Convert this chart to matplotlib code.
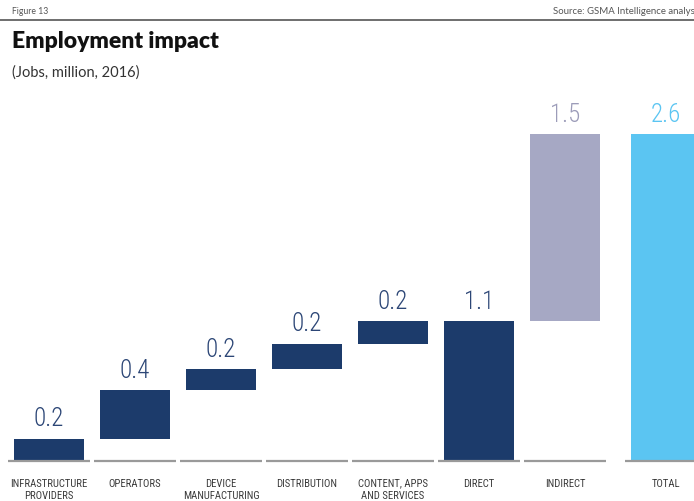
import matplotlib
matplotlib.use("Agg")
import matplotlib.pyplot as plt
from matplotlib import font_manager as fm
from matplotlib.lines import Line2D

# Employment impact waterfall, jobs in millions (2016)
categories = ["INFRASTRUCTURE\nPROVIDERS", "OPERATORS", "DEVICE\nMANUFACTURING",
              "DISTRIBUTION", "CONTENT, APPS\nAND SERVICES", "DIRECT", "INDIRECT", "TOTAL"]
direct_parts = [0.18, 0.39, 0.165, 0.205, 0.18]
indirect_jobs = 1.50

NAVY = "#1c3b6b"
LAVENDER = "#a6a8c4"
SKY = "#5bc5f2"
RULE = "#9a9a9a"


def pick_font(names):
    for name in names:
        try:
            fm.findfont(name, fallback_to_default=False)
            return name
        except ValueError:
            continue
    return "DejaVu Sans"


narrow = pick_font(["Roboto Condensed", "Liberation Sans Narrow", "Roboto", "DejaVu Sans"])
cats_font = pick_font(["Roboto Condensed", "Liberation Sans Narrow", "Liberation Sans"])
body = pick_font(["Lato", "Open Sans", "DejaVu Sans"])

direct_total = sum(direct_parts)
grand_total = direct_total + indirect_jobs

# bottoms and heights of the floating bars
bottoms, heights = [], []
running = 0.0
for v in direct_parts:
    bottoms.append(running)
    heights.append(v)
    running += v
bottoms += [0.0, direct_total, 0.0]
heights += [direct_total, indirect_jobs, grand_total]
colors = [NAVY] * 6 + [LAVENDER, SKY]
label_colors = ["#2c4676"] * 6 + ["#9c9cb9", SKY]

# the total column sits a little further right than the rest
xpos = list(range(7)) + [7.17]

fig = plt.figure(figsize=(6.94, 5.02), dpi=100)
W, H = 694, 502
ax = fig.add_axes([6 / W, 40 / H, (W - 6) / W, 362 / H])
ax.set_xlim(-0.5, 7.5)
ax.set_ylim(0, 2.9)
ax.axis("off")

ax.bar(xpos, heights, bottom=bottoms, width=0.814, color=colors, clip_on=False)

for x, b, h, c in zip(xpos, bottoms, heights, label_colors):
    ax.annotate(f"{h:.1f}", (x, b + h), xytext=(0, 6), textcoords="offset points",
                ha="center", va="bottom", fontsize=18, color=c, family=narrow,
                fontweight="light")

# segmented baseline under each column
for x in xpos:
    ax.add_line(Line2D([x - 0.477, x + 0.477], [0, 0], color=RULE, lw=1.6,
                       clip_on=False, solid_capstyle="butt"))

for x, cat in zip(xpos, categories):
    ax.annotate(cat, (x, 0), xytext=(0, -12), textcoords="offset points",
                ha="center", va="top", fontsize=7.7, color="#3a3a3a",
                family=cats_font, linespacing=1.25)

# header
fig.text(12 / W, 1 - 11 / H, "Figure 13", fontsize=6.2, color="#555555",
         family=body, va="center")
fig.text(553 / W, 1 - 11 / H, "Source: GSMA Intelligence analysis", fontsize=6.9,
         color="#555555", family=body, va="center")
fig.add_artist(Line2D([0, 1], [1 - 21 / H, 1 - 21 / H], color="#555555", lw=1.2))
fig.text(12 / W, 1 - 41 / H, "Employment impact", fontsize=16.5, fontweight="heavy",
         color="#111111", family=body, va="center")
fig.text(12 / W, 1 - 73 / H, "(Jobs, million, 2016)", fontsize=10.5,
         color="#333333", family=body, va="center")

fig.savefig("out.png", dpi=100)
